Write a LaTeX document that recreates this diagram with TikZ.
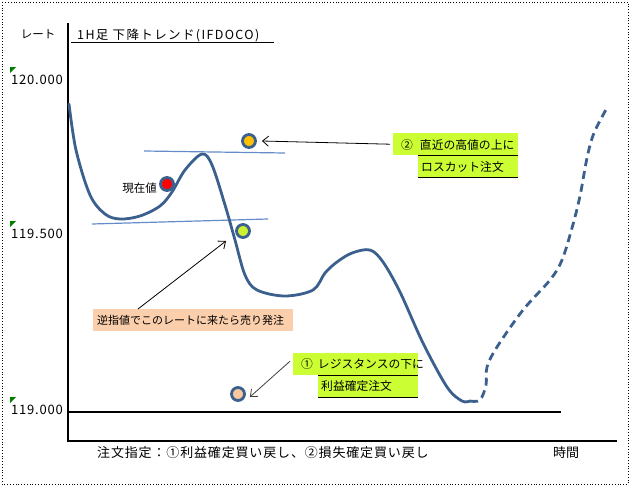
\documentclass[tikz,border=0pt]{standalone}
\usepackage{fontspec}
\newfontfamily\jp{Noto Sans CJK JP}
\newfontfamily\jpwide[LetterSpace=11]{Noto Sans CJK JP}
\newfontfamily\jpnum[LetterSpace=6]{Noto Sans CJK JP}
\newfontfamily\jpnote[LetterSpace=6.5]{Noto Sans CJK JP}
\usetikzlibrary{arrows.meta}
\definecolor{curveblue}{RGB}{59,96,142}
\definecolor{linblue}{RGB}{100,140,200}
\definecolor{lime}{RGB}{204,255,51}
\definecolor{peach}{RGB}{251,206,172}
\definecolor{gold}{RGB}{255,192,0}
\definecolor{ygreen}{RGB}{204,240,50}
\definecolor{peachdot}{RGB}{250,200,160}
\definecolor{markgreen}{RGB}{0,128,0}
\tikzset{
  txt/.style={font=\jp\fontsize{11.5}{13}\selectfont, inner sep=0pt},
  boxtxt/.style={font=\jp\fontsize{11.8}{13}\selectfont, inner sep=0pt},
  bigtxt/.style={font=\jp\fontsize{13}{15}\selectfont, inner sep=0pt},
  dotn/.style={circle, draw=curveblue, line width=2.8pt, minimum size=13pt, inner sep=0pt},
  limebox/.style={fill=lime, inner sep=0pt, anchor=north west},
  arr/.style={-{Straight Barb[length=6pt,width=10pt]}, line width=0.8pt},
  curve/.style={draw=curveblue, line width=2.8pt, line cap=round, line join=round},
  resline/.style={draw=linblue, line width=1.2pt},
  cmark/.style={fill=markgreen}
}
\begin{document}
\begin{tikzpicture}[x=1pt,y=-1pt]
\useasboundingbox (0,0) rectangle (630,490);
\draw[dotted, line width=0.8pt] (2,2) rectangle (628,484);

% axes
\draw[line width=2pt] (68,23) -- (68,441) -- (617,441);
\draw[line width=2pt] (68,412) -- (561,412);

% labels
\node[txt] (rate) at (38,34) {レート};
\node[inner sep=0pt, font=\jpwide\fontsize{12.5}{14}\selectfont, anchor=base west] (title) at (77,39) {1H足\ 下降トレンド(IFDOCO)};
\draw[line width=0.8pt] (71,42) -- (274,42);

\node[inner sep=0pt, font=\jpnum\fontsize{13}{15}\selectfont, anchor=east] (y120) at (63,80) {120.000};
\node[inner sep=0pt, font=\jpnum\fontsize{13}{15}\selectfont, anchor=east] (y1195) at (63,234) {119.500};
\node[inner sep=0pt, font=\jpnum\fontsize{13}{15}\selectfont, anchor=east] (y119) at (63,410) {119.000};
\fill[cmark] (10,67) -- (16,67) -- (10,73) -- cycle;
\fill[cmark] (10,221) -- (16,221) -- (10,227) -- cycle;
\fill[cmark] (10,397) -- (16,397) -- (10,403) -- cycle;

\node[inner sep=0pt, font=\jpnote\fontsize{13}{15}\selectfont, anchor=west] (note) at (97,453) {注文指定：①利益確定買い戻し、②損失確定買い戻し};
\node[bigtxt] (time) at (566,453) {時間};

% resistance lines
\draw[resline] (144,151) -- (285,153);
\draw[resline] (92,224) -- (268,219);

% price curve
\draw[curve] plot[smooth, tension=0.55] coordinates {
 (69,104) (76,150) (90,195) (105,214) (120,219) (140,216) (160,206) (172,192)
 (185,170) (202,154) (212,165) (225,205) (235,240) (245,275) (257,290) (285,296)
 (313,290) (325,273) (337,262) (352,253) (370,250) (383,262) (400,292) (423,343)
 (447,387) (462,401) (470,401)};
\draw[curve, dash pattern=on 8pt off 5pt, line cap=butt] plot[smooth, tension=0.55] coordinates {
 (470,401) (480,400) (486,385) (487,367) (497,347) (523,310) (550,280) (562,260)
 (572,228) (580,196) (587,158) (594,133) (608,106)};

% dots
\node[dotn, fill=gold] (dotO) at (249,141) {};
\node[dotn, fill=red] (dotR) at (167,184) {};
\node[dotn, fill=ygreen] (dotG) at (243,231) {};
\node[dotn, fill=peachdot] (dotP) at (238,394) {};
\node[txt, anchor=east] (cur) at (157,188) {現在値};

% box 2
\node[limebox, minimum width=125pt, minimum height=22pt] (b2a) at (393,133) {};
\node[limebox, minimum width=100pt, minimum height=22pt] (b2b) at (418,155) {};
\node[boxtxt, anchor=west] (t2a) at (401,145) {②\hspace{7pt}直近の高値の上に};
\node[boxtxt, anchor=west] (t2b) at (421,167) {ロスカット注文};
\draw[line width=0.8pt] (b2b.north west) -- (b2b.north east);
\draw[line width=0.8pt] (b2b.south west) -- (b2b.south east);
\draw[arr] ([xshift=-3pt]b2a.west) -- ([xshift=5pt]dotO.east);

% box 1
\node[limebox, minimum width=125pt, minimum height=22pt] (b1a) at (293,353) {};
\node[limebox, minimum width=100pt, minimum height=22pt] (b1b) at (318,375) {};
\node[boxtxt, anchor=west] (t1a) at (301,364) {①\hspace{5pt}レジスタンスの下に};
\node[boxtxt, anchor=west] (t1b) at (321,386) {利益確定注文};
\draw[line width=0.8pt] (b1b.north west) -- (b1b.north east);
\draw[line width=0.8pt] (b1b.south west) -- (b1b.south east);
\draw[arr, draw=black!75] ([xshift=-3pt,yshift=3pt]b1a.west) -- ([xshift=4pt,yshift=-3pt]dotP.east);

% peach box
\node[fill=peach, anchor=north west, minimum width=200pt, minimum height=22pt, inner sep=0pt] (pb) at (93,309) {};
\node[inner sep=0pt, font=\jp\fontsize{11}{13}\selectfont, anchor=west] (pt) at (97,320) {逆指値でこのレートに来たら売り発注};
\coordinate (pbtop) at ([xshift=45pt]pb.north west);
\coordinate (gtarget) at (226,241);
\draw[arr] (pbtop) -- (gtarget);
\end{tikzpicture}
\end{document}
